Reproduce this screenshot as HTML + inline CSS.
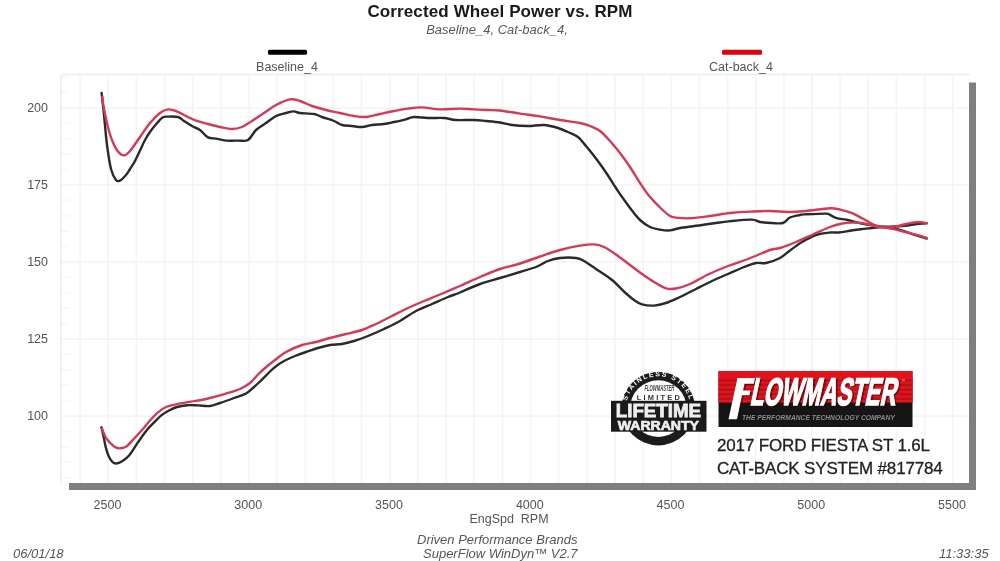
<!DOCTYPE html>
<html><head><meta charset="utf-8">
<style>
html,body{margin:0;padding:0;background:#fff;}
body{width:1000px;height:561px;position:relative;overflow:hidden;font-family:"Liberation Sans",sans-serif;color:#333;}
.a{position:absolute;white-space:nowrap;}
#title{left:0;width:1000px;top:1.7px;text-align:center;font-weight:bold;font-size:17px;letter-spacing:0.12px;color:#1a1a1a;line-height:20px;}
#sub{left:-3px;width:1000px;top:22px;text-align:center;font-style:italic;font-size:13px;color:#5a5a5a;line-height:16px;}
.leg{position:absolute;font-size:12.5px;color:#555;line-height:15px;text-align:center;width:120px;}
.yl{position:absolute;left:0;width:48px;text-align:right;font-size:12.5px;line-height:15px;color:#555;}
.xl{position:absolute;top:497.5px;width:60px;text-align:center;font-size:12.5px;line-height:15px;color:#555;}
#svg{position:absolute;left:0;top:0;}
.car{position:absolute;left:717px;font-size:17px;letter-spacing:-0.16px;color:#222;-webkit-text-stroke:0.3px #222;line-height:20px;}
.bt{position:absolute;font-style:italic;font-size:13px;color:#555;line-height:15px;}
</style></head>
<body>
<div id="wrap" style="position:absolute;left:0;top:0;width:1000px;height:561px;filter:blur(0.45px);">
<svg id="svg" width="1000" height="561" viewBox="0 0 1000 561">
 <g stroke="#f5f5f5" stroke-width="1.8" fill="none">
<line x1="80.2" y1="75" x2="80.2" y2="483"/>
<line x1="108.3" y1="75" x2="108.3" y2="483"/>
<line x1="136.4" y1="75" x2="136.4" y2="483"/>
<line x1="164.6" y1="75" x2="164.6" y2="483"/>
<line x1="192.8" y1="75" x2="192.8" y2="483"/>
<line x1="220.9" y1="75" x2="220.9" y2="483"/>
<line x1="249.1" y1="75" x2="249.1" y2="483"/>
<line x1="277.2" y1="75" x2="277.2" y2="483"/>
<line x1="305.3" y1="75" x2="305.3" y2="483"/>
<line x1="333.5" y1="75" x2="333.5" y2="483"/>
<line x1="361.6" y1="75" x2="361.6" y2="483"/>
<line x1="389.8" y1="75" x2="389.8" y2="483"/>
<line x1="417.9" y1="75" x2="417.9" y2="483"/>
<line x1="446.1" y1="75" x2="446.1" y2="483"/>
<line x1="474.2" y1="75" x2="474.2" y2="483"/>
<line x1="502.4" y1="75" x2="502.4" y2="483"/>
<line x1="530.5" y1="75" x2="530.5" y2="483"/>
<line x1="558.7" y1="75" x2="558.7" y2="483"/>
<line x1="586.8" y1="75" x2="586.8" y2="483"/>
<line x1="615.0" y1="75" x2="615.0" y2="483"/>
<line x1="643.1" y1="75" x2="643.1" y2="483"/>
<line x1="671.3" y1="75" x2="671.3" y2="483"/>
<line x1="699.4" y1="75" x2="699.4" y2="483"/>
<line x1="727.6" y1="75" x2="727.6" y2="483"/>
<line x1="755.7" y1="75" x2="755.7" y2="483"/>
<line x1="783.9" y1="75" x2="783.9" y2="483"/>
<line x1="812.0" y1="75" x2="812.0" y2="483"/>
<line x1="840.2" y1="75" x2="840.2" y2="483"/>
<line x1="868.3" y1="75" x2="868.3" y2="483"/>
<line x1="896.5" y1="75" x2="896.5" y2="483"/>
<line x1="924.6" y1="75" x2="924.6" y2="483"/>
<line x1="952.8" y1="75" x2="952.8" y2="483"/>
<line x1="61" y1="77.0" x2="70" y2="77.0" stroke="#f7f7f7"/>
<line x1="61" y1="92.4" x2="70" y2="92.4" stroke="#f7f7f7"/>
<line x1="61" y1="107.8" x2="969" y2="107.8"/>
<line x1="61" y1="123.2" x2="70" y2="123.2" stroke="#f7f7f7"/>
<line x1="61" y1="138.6" x2="70" y2="138.6" stroke="#f7f7f7"/>
<line x1="61" y1="154.0" x2="70" y2="154.0" stroke="#f7f7f7"/>
<line x1="61" y1="169.5" x2="70" y2="169.5" stroke="#f7f7f7"/>
<line x1="61" y1="184.9" x2="969" y2="184.9"/>
<line x1="61" y1="200.3" x2="70" y2="200.3" stroke="#f7f7f7"/>
<line x1="61" y1="215.7" x2="70" y2="215.7" stroke="#f7f7f7"/>
<line x1="61" y1="231.1" x2="70" y2="231.1" stroke="#f7f7f7"/>
<line x1="61" y1="246.5" x2="70" y2="246.5" stroke="#f7f7f7"/>
<line x1="61" y1="261.9" x2="969" y2="261.9"/>
<line x1="61" y1="277.4" x2="70" y2="277.4" stroke="#f7f7f7"/>
<line x1="61" y1="292.8" x2="70" y2="292.8" stroke="#f7f7f7"/>
<line x1="61" y1="308.2" x2="70" y2="308.2" stroke="#f7f7f7"/>
<line x1="61" y1="323.6" x2="70" y2="323.6" stroke="#f7f7f7"/>
<line x1="61" y1="339.0" x2="969" y2="339.0"/>
<line x1="61" y1="354.4" x2="70" y2="354.4" stroke="#f7f7f7"/>
<line x1="61" y1="369.9" x2="70" y2="369.9" stroke="#f7f7f7"/>
<line x1="61" y1="385.3" x2="70" y2="385.3" stroke="#f7f7f7"/>
<line x1="61" y1="400.7" x2="70" y2="400.7" stroke="#f7f7f7"/>
<line x1="61" y1="416.1" x2="969" y2="416.1"/>
<line x1="61" y1="431.5" x2="70" y2="431.5" stroke="#f7f7f7"/>
<line x1="61" y1="446.9" x2="70" y2="446.9" stroke="#f7f7f7"/>
<line x1="61" y1="462.3" x2="70" y2="462.3" stroke="#f7f7f7"/>
<line x1="61" y1="477.8" x2="70" y2="477.8" stroke="#f7f7f7"/>
 </g>
 <line x1="61" y1="74.6" x2="970" y2="74.6" stroke="#ececec" stroke-width="1.5"/>
 <line x1="60.8" y1="74.6" x2="60.8" y2="483" stroke="#ececec" stroke-width="1.5"/>
 <rect x="969" y="82.5" width="7" height="407.5" fill="#7f7f7f"/>
 <rect x="69" y="483" width="907" height="7" fill="#7f7f7f"/>
 <rect x="268" y="49.8" width="39" height="5" rx="1.5" fill="#000"/>
 <rect x="722" y="49.8" width="40" height="5" rx="1.5" fill="#e0000f"/>

 <defs>
  <linearGradient id="rg" x1="0" y1="0" x2="0" y2="1">
   <stop offset="0" stop-color="#e8101c"/>
   <stop offset="0.2" stop-color="#e01420"/>
   <stop offset="1" stop-color="#9a0e14"/>
  </linearGradient>
  <pattern id="stripes" x="0" y="377" width="10" height="4.6" patternUnits="userSpaceOnUse">
   <rect x="0" y="0" width="10" height="2.3" fill="#e3161f"/>
   <rect x="0" y="2.3" width="10" height="2.3" fill="#b30f18"/>
  </pattern>
  <path id="arc" d="M626 408.6 A32.3 32.3 0 0 1 690.6 408.6"/>
 </defs>
 <!-- Flowmaster logo -->
 <rect x="718.5" y="371" width="194" height="56" fill="#151515"/>
 <rect x="718.5" y="371" width="194" height="31.5" fill="#e2121d"/>
 <rect x="718.5" y="378" width="194" height="24.5" fill="url(#stripes)" opacity="0.85"/>
 <g opacity="0.55" transform="translate(1.6,1.2)">
 <path d="M737.5 378 L755 378 L753.8 383.8 L744.5 383.8 L743.1 390.5 L750.5 390.5 L749.5 395.3 L742 395.3 L737 419.3 L728.5 419.3 Z" fill="#300"/>
 <text transform="translate(749.5,405) skewX(-12) scale(0.579,1)" font-family="Liberation Sans" font-weight="bold" font-size="38.4" fill="#300" stroke="#300" stroke-width="1.6">LOWMASTER</text>
 </g>
 <path d="M737.5 378 L755 378 L753.8 383.8 L744.5 383.8 L743.1 390.5 L750.5 390.5 L749.5 395.3 L742 395.3 L737 419.3 L728.5 419.3 Z" fill="#fff"/>
 <text transform="translate(749.5,405) skewX(-12) scale(0.579,1)" font-family="Liberation Sans" font-weight="bold" font-size="38.4" fill="#fff" stroke="#fff" stroke-width="1.6">LOWMASTER</text>
 <text x="901" y="382" font-family="Liberation Sans" font-size="4" fill="#ddd">™</text>
 <text transform="translate(742,420.2) scale(0.96,1)" font-family="Liberation Sans" font-weight="bold" font-style="italic" font-size="7" fill="#8c8c8c">THE PERFORMANCE TECHNOLOGY COMPANY</text>
 <!-- Warranty badge -->
 <circle cx="658.3" cy="408.6" r="36.8" fill="#1c1c1c"/>
 <circle cx="658.3" cy="408.6" r="28.3" fill="#fff"/>
 <text font-family="Liberation Sans" font-weight="bold" font-size="7" fill="#fff" letter-spacing="1.5"><textPath href="#arc" startOffset="50%" text-anchor="middle">STAINLESS STEEL</textPath></text>
 <text x="644.4" y="390.6" textLength="30" lengthAdjust="spacingAndGlyphs" font-family="Liberation Sans" font-weight="bold" font-style="italic" font-size="8.2" fill="#444">FLOWMASTER</text>
 <text x="636.8" y="400.3" textLength="43" lengthAdjust="spacing" font-family="Liberation Sans" font-weight="bold" font-size="7.4" fill="#333">LIMITED</text>
 <rect x="611" y="400.8" width="95.5" height="30.9" fill="#1a1a1a"/>
 <text transform="translate(615.8,417) scale(1.04,1)" font-family="Liberation Sans" font-weight="bold" font-size="18" fill="#eee" stroke="#eee" stroke-width="0.8">LIFETIME</text>
 <text transform="translate(617.8,429.9) scale(1.05,1)" font-family="Liberation Sans" font-weight="bold" font-size="13.4" fill="#eee" stroke="#eee" stroke-width="0.7">WARRANTY</text>
 <g fill="none" stroke-width="2.4" stroke-linejoin="round" stroke-linecap="round">
  <path d="M101.6 93.0 C102.0 96.7 103.1 106.3 104.0 115.0 C104.9 123.7 105.8 136.0 107.0 145.0 C108.2 154.0 109.5 163.2 111.0 169.0 C112.5 174.8 114.5 178.1 116.0 180.0 C117.5 181.9 118.3 181.4 120.0 180.6 C121.7 179.8 124.3 176.9 126.0 175.0 C127.7 173.1 128.5 171.3 130.0 169.0 C131.5 166.7 133.3 164.1 135.0 161.0 C136.7 157.9 138.3 154.0 140.0 150.5 C141.7 147.0 143.3 143.1 145.0 140.0 C146.7 136.9 148.3 134.4 150.0 132.0 C151.7 129.6 152.9 127.9 155.0 125.5 C157.1 123.1 160.3 119.1 162.5 117.6 C164.7 116.1 165.4 116.7 168.0 116.6 C170.6 116.5 175.3 116.3 178.0 117.0 C180.7 117.7 181.7 119.5 184.0 121.0 C186.3 122.5 189.3 124.5 192.0 126.0 C194.7 127.5 197.3 128.1 200.0 130.0 C202.7 131.9 205.3 136.0 208.0 137.4 C210.7 138.8 213.0 138.1 216.0 138.6 C219.0 139.1 222.3 140.3 226.0 140.6 C229.7 140.9 234.3 140.7 238.0 140.6 C241.7 140.5 245.0 141.8 248.0 140.0 C251.0 138.2 253.0 132.8 256.0 130.0 C259.0 127.2 262.7 125.3 266.0 123.0 C269.3 120.7 272.7 117.7 276.0 116.0 C279.3 114.3 283.0 113.8 286.0 113.0 C289.0 112.2 291.7 111.4 294.0 111.4 C296.3 111.4 296.7 112.6 300.0 113.0 C303.3 113.4 310.3 113.3 314.0 114.0 C317.7 114.7 318.7 115.8 322.0 117.0 C325.3 118.2 330.7 119.7 334.0 121.0 C337.3 122.3 339.0 124.2 342.0 125.0 C345.0 125.8 348.7 125.7 352.0 126.0 C355.3 126.3 358.7 127.2 362.0 127.0 C365.3 126.8 368.3 125.5 372.0 125.0 C375.7 124.5 380.3 124.5 384.0 124.0 C387.7 123.5 390.3 122.8 394.0 122.0 C397.7 121.2 402.7 120.1 406.0 119.3 C409.3 118.5 410.3 117.2 414.0 117.0 C417.7 116.8 423.0 117.8 428.0 118.0 C433.0 118.2 439.3 117.7 444.0 118.0 C448.7 118.3 451.0 119.7 456.0 120.0 C461.0 120.3 469.0 119.8 474.0 120.0 C479.0 120.2 481.7 120.6 486.0 121.0 C490.3 121.4 495.7 121.8 500.0 122.5 C504.3 123.2 507.3 124.4 512.0 125.0 C516.7 125.6 522.7 126.0 528.0 126.0 C533.3 126.0 539.0 124.7 544.0 125.0 C549.0 125.3 554.0 126.8 558.0 128.0 C562.0 129.2 564.7 130.5 568.0 132.0 C571.3 133.5 575.0 134.7 578.0 137.0 C581.0 139.3 583.0 142.4 586.0 146.0 C589.0 149.6 592.7 154.1 596.0 158.5 C599.3 162.9 602.7 167.6 606.0 172.5 C609.3 177.4 613.5 184.2 616.0 188.0 C618.5 191.8 619.3 193.1 621.0 195.5 C622.7 197.9 624.2 200.0 626.0 202.5 C627.8 205.0 629.7 207.6 632.0 210.5 C634.3 213.4 637.0 217.2 640.0 220.0 C643.0 222.8 646.7 225.4 650.0 227.0 C653.3 228.6 656.7 229.0 660.0 229.6 C663.3 230.2 666.7 230.7 670.0 230.4 C673.3 230.1 675.7 228.8 680.0 228.0 C684.3 227.2 690.7 226.6 696.0 225.8 C701.3 225.1 706.0 224.3 712.0 223.5 C718.0 222.7 725.3 221.7 732.0 221.0 C738.7 220.3 747.3 219.4 752.0 219.6 C756.7 219.8 756.7 221.4 760.0 222.0 C763.3 222.6 768.2 222.8 772.0 223.0 C775.8 223.2 780.0 223.9 783.0 223.0 C786.0 222.1 787.2 218.8 790.0 217.5 C792.8 216.2 797.7 215.5 800.0 215.0 C802.3 214.5 799.7 214.6 804.0 214.4 C808.3 214.2 821.7 213.5 826.0 213.6 C830.3 213.7 828.2 214.1 830.0 214.9 C831.8 215.7 833.9 217.4 836.6 218.2 C839.4 219.0 843.0 219.1 846.5 219.8 C850.0 220.5 853.8 221.8 857.5 222.6 C861.2 223.4 864.8 224.2 868.5 224.8 C872.2 225.4 875.8 226.0 879.5 226.4 C883.2 226.8 886.8 226.8 890.5 227.5 C894.2 228.2 897.8 229.2 901.5 230.3 C905.2 231.4 908.3 232.7 912.5 234.1 C916.7 235.5 924.4 237.8 926.8 238.5" stroke="#2a2a2a"/>
  <path d="M101.4 427.3 C101.8 429.0 103.1 434.1 103.8 437.5 C104.5 440.9 105.0 444.3 105.8 447.4 C106.6 450.5 107.6 453.8 108.7 456.2 C109.8 458.6 111.3 460.9 112.6 462.1 C113.9 463.3 114.9 463.7 116.6 463.5 C118.2 463.3 120.4 462.5 122.5 461.1 C124.6 459.7 127.0 457.9 129.3 455.2 C131.6 452.5 134.5 447.5 136.2 445.0 C137.9 442.5 137.8 442.4 139.6 440.0 C141.3 437.6 144.3 433.2 146.7 430.3 C149.1 427.4 151.5 425.1 153.9 422.6 C156.3 420.2 158.5 417.6 161.0 415.6 C163.5 413.6 166.3 411.9 169.0 410.5 C171.7 409.1 174.0 407.9 177.0 407.0 C180.0 406.1 183.5 405.5 187.0 405.2 C190.5 404.9 194.2 405.3 198.0 405.4 C201.8 405.5 206.3 406.4 210.0 406.0 C213.7 405.6 216.0 404.3 220.0 403.0 C224.0 401.7 229.7 399.6 234.0 398.0 C238.3 396.4 242.7 395.3 246.0 393.5 C249.3 391.7 251.7 389.0 254.0 387.0 C256.3 385.0 257.3 384.1 260.0 381.5 C262.7 378.9 267.2 374.2 270.0 371.5 C272.8 368.8 274.5 367.3 277.0 365.5 C279.5 363.7 282.0 362.1 285.0 360.5 C288.0 358.9 291.5 357.4 295.0 356.0 C298.5 354.6 302.2 353.3 306.0 352.0 C309.8 350.7 314.0 349.2 318.0 348.0 C322.0 346.8 326.0 345.7 330.0 345.0 C334.0 344.3 338.0 344.7 342.0 344.0 C346.0 343.3 349.7 342.3 354.0 341.0 C358.3 339.7 363.0 338.0 368.0 336.0 C373.0 334.0 378.7 331.5 384.0 329.0 C389.3 326.5 394.7 324.0 400.0 321.0 C405.3 318.0 410.7 313.8 416.0 311.0 C421.3 308.2 426.7 306.3 432.0 304.0 C437.3 301.7 443.3 298.9 448.0 297.0 C452.7 295.1 454.7 294.7 460.0 292.5 C465.3 290.3 473.3 286.4 480.0 284.0 C486.7 281.6 493.3 280.0 500.0 278.0 C506.7 276.0 514.0 273.8 520.0 272.0 C526.0 270.2 531.3 268.8 536.0 267.0 C540.7 265.2 544.0 262.5 548.0 261.0 C552.0 259.5 555.3 258.5 560.0 258.0 C564.7 257.5 572.0 257.5 576.0 258.0 C580.0 258.5 580.7 259.2 584.0 261.0 C587.3 262.8 591.3 265.8 596.0 269.0 C600.7 272.2 607.2 276.1 612.0 280.0 C616.8 283.9 621.3 289.2 625.0 292.5 C628.7 295.8 631.2 298.0 634.0 300.0 C636.8 302.0 638.7 303.5 642.0 304.4 C645.3 305.3 650.0 305.8 654.0 305.6 C658.0 305.4 661.7 304.4 666.0 303.0 C670.3 301.6 675.0 299.3 680.0 297.0 C685.0 294.7 690.7 291.7 696.0 289.0 C701.3 286.3 706.7 283.5 712.0 281.0 C717.3 278.5 722.7 276.3 728.0 274.0 C733.3 271.7 739.3 268.8 744.0 267.0 C748.7 265.2 752.3 263.7 756.0 263.0 C759.7 262.3 762.0 263.8 766.0 263.0 C770.0 262.2 776.0 260.1 780.0 258.0 C784.0 255.9 786.3 253.2 790.0 250.5 C793.7 247.8 797.7 244.6 802.0 242.0 C806.3 239.4 811.3 236.6 816.0 235.0 C820.7 233.4 826.2 232.9 830.0 232.5 C833.8 232.1 835.5 232.8 838.8 232.5 C842.1 232.2 846.1 231.4 849.8 230.8 C853.5 230.2 857.1 229.7 860.8 229.2 C864.5 228.7 868.1 228.4 871.8 228.0 C875.5 227.6 879.1 227.3 882.8 227.0 C886.5 226.7 890.1 226.6 893.8 226.4 C897.5 226.2 901.1 226.3 904.8 225.9 C908.5 225.5 912.1 224.6 915.8 224.2 C919.5 223.8 925.0 223.5 926.8 223.3" stroke="#2a2a2a"/>
  <path d="M102.3 97.0 C102.5 98.5 102.9 102.4 103.5 106.0 C104.1 109.6 105.1 114.3 106.0 118.5 C106.9 122.7 107.8 127.0 109.0 131.0 C110.2 135.0 111.5 139.1 113.0 142.5 C114.5 145.9 116.2 149.3 118.0 151.5 C119.8 153.7 122.0 155.5 124.0 155.4 C126.0 155.3 127.3 154.1 130.0 151.0 C132.7 147.9 136.7 141.7 140.0 137.0 C143.3 132.3 146.7 127.0 150.0 123.0 C153.3 119.0 157.0 115.3 160.0 113.0 C163.0 110.7 165.3 109.7 168.0 109.4 C170.7 109.1 173.0 109.9 176.0 111.0 C179.0 112.1 182.7 114.4 186.0 116.0 C189.3 117.6 192.3 119.3 196.0 120.6 C199.7 121.9 204.0 122.9 208.0 124.0 C212.0 125.1 216.0 126.2 220.0 127.0 C224.0 127.8 228.3 129.0 232.0 129.0 C235.7 129.0 238.7 128.3 242.0 127.0 C245.3 125.7 248.3 123.3 252.0 121.0 C255.7 118.7 260.0 115.7 264.0 113.0 C268.0 110.3 271.7 107.3 276.0 105.0 C280.3 102.7 286.0 100.1 290.0 99.4 C294.0 98.7 296.3 99.9 300.0 101.0 C303.7 102.1 307.7 104.5 312.0 106.0 C316.3 107.5 321.3 108.8 326.0 110.0 C330.7 111.2 335.3 112.0 340.0 113.0 C344.7 114.0 349.7 115.3 354.0 116.0 C358.3 116.7 361.7 117.3 366.0 117.0 C370.3 116.7 375.3 115.0 380.0 114.0 C384.7 113.0 389.3 111.9 394.0 111.0 C398.7 110.1 403.3 109.2 408.0 108.6 C412.7 108.0 416.7 107.3 422.0 107.4 C427.3 107.5 433.7 109.2 440.0 109.4 C446.3 109.6 454.3 108.6 460.0 108.6 C465.7 108.6 469.3 109.2 474.0 109.4 C478.7 109.6 483.7 109.8 488.0 110.0 C492.3 110.2 494.7 109.9 500.0 110.5 C505.3 111.1 513.3 112.6 520.0 113.6 C526.7 114.6 533.3 115.3 540.0 116.4 C546.7 117.5 553.3 118.9 560.0 120.0 C566.7 121.1 575.0 122.0 580.0 123.0 C585.0 124.0 586.7 124.7 590.0 126.0 C593.3 127.3 596.7 128.5 600.0 131.0 C603.3 133.5 606.7 137.3 610.0 141.0 C613.3 144.7 616.7 148.7 620.0 153.0 C623.3 157.3 626.7 162.0 630.0 167.0 C633.3 172.0 637.0 178.4 640.0 183.0 C643.0 187.6 644.7 190.4 648.0 194.5 C651.3 198.6 656.3 203.9 660.0 207.5 C663.7 211.1 667.3 214.3 670.0 216.0 C672.7 217.7 672.7 217.2 676.0 217.6 C679.3 218.0 684.3 218.6 690.0 218.3 C695.7 218.0 703.3 216.9 710.0 216.0 C716.7 215.1 723.3 213.7 730.0 213.0 C736.7 212.3 743.3 211.9 750.0 211.6 C756.7 211.3 763.3 210.9 770.0 211.0 C776.7 211.1 784.0 212.0 790.0 212.0 C796.0 212.0 799.3 211.6 806.0 211.0 C812.7 210.4 824.2 208.5 830.0 208.3 C835.8 208.1 837.3 209.1 841.0 209.9 C844.7 210.7 848.3 211.7 852.0 213.2 C855.7 214.7 859.3 216.8 863.0 218.7 C866.7 220.6 870.3 223.3 874.0 224.8 C877.7 226.3 881.3 226.7 885.0 227.5 C888.7 228.3 892.3 228.9 896.0 229.7 C899.7 230.5 903.3 231.6 907.0 232.5 C910.7 233.4 914.7 234.3 918.0 235.2 C921.3 236.1 925.3 237.5 926.8 238.0" stroke="#d43a55"/>
  <path d="M102.0 428.5 C102.6 430.0 104.3 435.0 105.8 437.5 C107.2 440.0 109.1 441.8 110.7 443.4 C112.3 445.0 114.0 446.6 115.6 447.4 C117.2 448.2 118.7 448.5 120.5 448.3 C122.3 448.1 124.1 448.0 126.4 446.4 C128.7 444.8 131.6 441.2 134.2 438.5 C136.8 435.8 139.4 433.0 142.0 430.0 C144.6 427.0 147.3 423.4 150.0 420.5 C152.7 417.6 155.3 414.6 158.0 412.3 C160.7 410.1 163.0 408.3 166.0 407.0 C169.0 405.7 171.8 405.2 176.0 404.3 C180.2 403.4 187.0 402.3 191.0 401.6 C195.0 400.9 196.8 400.8 200.0 400.2 C203.2 399.6 205.7 399.1 210.0 398.0 C214.3 396.9 221.0 395.1 226.0 393.6 C231.0 392.1 236.0 390.8 240.0 389.0 C244.0 387.2 247.0 385.4 250.0 383.0 C253.0 380.6 255.5 377.0 258.0 374.5 C260.5 372.0 262.2 370.4 265.0 368.0 C267.8 365.6 271.5 362.7 275.0 360.0 C278.5 357.3 281.5 354.5 286.0 352.0 C290.5 349.5 297.0 346.7 302.0 345.0 C307.0 343.3 311.3 343.2 316.0 342.0 C320.7 340.8 325.0 339.3 330.0 338.0 C335.0 336.7 340.7 335.3 346.0 334.0 C351.3 332.7 357.0 331.7 362.0 330.0 C367.0 328.3 371.0 326.3 376.0 324.0 C381.0 321.7 386.7 318.7 392.0 316.0 C397.3 313.3 402.7 310.5 408.0 308.0 C413.3 305.5 418.7 303.2 424.0 301.0 C429.3 298.8 434.0 297.0 440.0 294.5 C446.0 292.0 453.3 288.9 460.0 286.0 C466.7 283.1 473.3 279.8 480.0 277.0 C486.7 274.2 493.3 271.2 500.0 269.0 C506.7 266.8 513.3 265.6 520.0 263.5 C526.7 261.4 533.3 258.8 540.0 256.5 C546.7 254.2 553.3 251.8 560.0 250.0 C566.7 248.2 574.3 246.5 580.0 245.6 C585.7 244.7 590.0 244.2 594.0 244.4 C598.0 244.6 600.3 245.3 604.0 247.0 C607.7 248.7 611.7 251.5 616.0 254.5 C620.3 257.5 625.7 261.8 630.0 265.0 C634.3 268.2 638.0 271.2 642.0 274.0 C646.0 276.8 650.0 279.6 654.0 282.0 C658.0 284.4 662.3 287.3 666.0 288.4 C669.7 289.5 672.0 289.2 676.0 288.5 C680.0 287.8 684.7 286.3 690.0 284.0 C695.3 281.7 701.7 277.5 708.0 274.5 C714.3 271.5 721.3 268.6 728.0 266.0 C734.7 263.4 741.0 261.7 748.0 259.0 C755.0 256.3 764.7 251.8 770.0 250.0 C775.3 248.2 775.7 249.3 780.0 248.0 C784.3 246.7 790.0 244.5 796.0 242.0 C802.0 239.5 810.3 235.5 816.0 233.0 C821.7 230.5 825.8 228.6 830.0 227.0 C834.2 225.4 837.3 224.4 841.0 223.7 C844.7 223.0 848.3 222.7 852.0 222.6 C855.7 222.5 859.3 222.5 863.0 223.1 C866.7 223.7 870.3 225.2 874.0 225.9 C877.7 226.6 881.3 227.4 885.0 227.5 C888.7 227.6 892.3 227.0 896.0 226.4 C899.7 225.8 903.3 224.4 907.0 223.7 C910.7 223.0 914.7 222.1 918.0 222.0 C921.3 221.9 925.3 222.9 926.8 223.1" stroke="#d43a55"/>
 </g>
</svg>
<div id="title" class="a">Corrected Wheel Power vs. RPM</div>
<div id="sub" class="a">Baseline_4, Cat-back_4,</div>
<div class="leg" style="left:227px;top:60px;">Baseline_4</div>
<div class="leg" style="left:681px;top:60px;">Cat-back_4</div>
<div class="yl" style="top:101.0px">200</div>
<div class="yl" style="top:178.0px">175</div>
<div class="yl" style="top:255.2px">150</div>
<div class="yl" style="top:332.3px">125</div>
<div class="yl" style="top:409.3px">100</div>
<div class="xl" style="left:77.5px">2500</div>
<div class="xl" style="left:218.2px">3000</div>
<div class="xl" style="left:359.0px">3500</div>
<div class="xl" style="left:499.8px">4000</div>
<div class="xl" style="left:640.5px">4500</div>
<div class="xl" style="left:781.2px">5000</div>
<div class="xl" style="left:922.0px">5500</div>
<div class="a" style="left:0;width:1018px;top:512px;text-align:center;font-size:12.5px;color:#555;line-height:15px;">EngSpd&nbsp; RPM</div>
<div class="bt" style="left:417px;top:532px;">Driven Performance Brands</div>
<div class="bt" style="left:423px;top:546px;">SuperFlow WinDyn™ V2.7</div>
<div class="bt" style="left:13px;top:546px;">06/01/18</div>
<div class="bt" style="left:939px;top:546px;">11:33:35</div>
<div class="car" style="top:435.5px;">2017 FORD FIESTA ST 1.6L</div>
<div class="car" style="top:459px;">CAT-BACK SYSTEM #817784</div>
</div>
</body></html>
